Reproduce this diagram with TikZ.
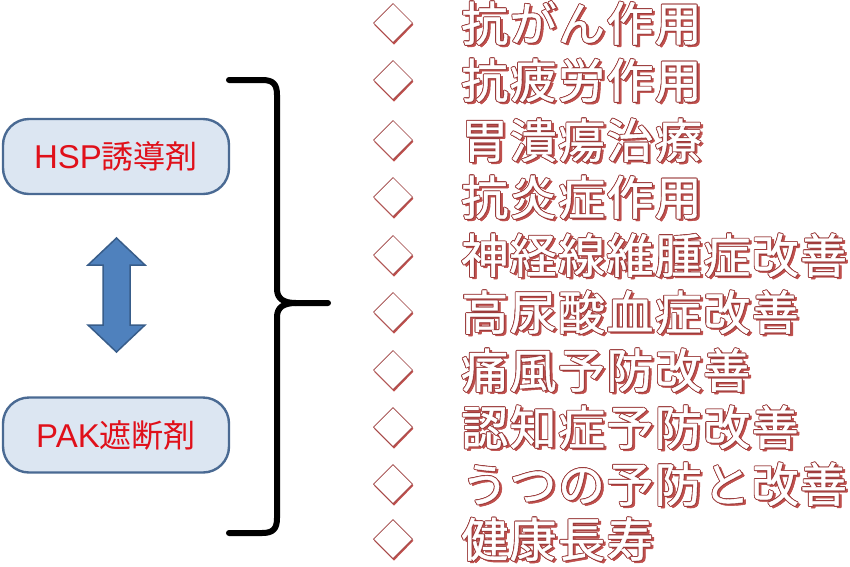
\documentclass[tikz,border=0pt]{standalone}
\usepackage{fontspec}
\newfontfamily\cjk{Noto Sans CJK JP}
\newfontfamily\cjkwide{Noto Sans CJK JP}[LetterSpace=3,FakeBold=0.9]
\newfontfamily\latinf{Liberation Sans}
\definecolor{boxfill}{HTML}{DCE6F2}
\definecolor{boxline}{HTML}{4A6A93}
\definecolor{labred}{HTML}{E0101A}
\definecolor{arrfill}{HTML}{4F81BD}
\definecolor{arrline}{HTML}{385D8A}
\definecolor{outl}{HTML}{9B3B3B}
\definecolor{shad}{HTML}{C0504D}
\newcommand\fancytxt[1]{\leavevmode
  \rlap{\kern2.3pt\raisebox{-2.3pt}{\color{shad}#1}}%
  \rlap{\kern2.9pt\raisebox{-1.7pt}{\color{shad}#1}}%
  \rlap{\kern0.9pt{\color{outl}#1}}%
  \rlap{\kern-0.9pt{\color{outl}#1}}%
  \rlap{\raisebox{0.9pt}{\color{outl}#1}}%
  \rlap{\raisebox{-0.9pt}{\color{outl}#1}}%
  \rlap{\kern0.65pt\raisebox{0.65pt}{\color{outl}#1}}%
  \rlap{\kern-0.65pt\raisebox{0.65pt}{\color{outl}#1}}%
  \rlap{\kern0.65pt\raisebox{-0.65pt}{\color{outl}#1}}%
  \rlap{\kern-0.65pt\raisebox{-0.65pt}{\color{outl}#1}}%
  {\color{white}#1}}
\tikzset{
  agent/.style={draw=boxline, line width=2.4pt, fill=boxfill, rounded corners=26pt,
    minimum width=226pt, minimum height=75pt, inner sep=0pt,
    text=labred, font=\fontsize{32}{32}\selectfont},
  item/.style={anchor=base west, inner sep=0pt,
    font=\cjkwide\fontsize{47}{47}\selectfont},
  dblarrow/.style={fill=arrfill, draw=arrline, line width=1.5pt, line join=miter},
  bracepath/.style={line width=6pt, draw=black, line cap=round, line join=round},
}
\newcommand\bullitem[2]{%
  \draw[shad, line width=2.2pt] (#1+19.5,#2+1) -- (#1+1,#2+20) -- (#1-18,#2+1);
  \draw[outl, fill=white, line width=0.7pt] (#1,#2-19.5) -- (#1+19.5,#2) -- (#1,#2+19.5) -- (#1-19.5,#2) -- cycle;
}
\begin{document}
\begin{tikzpicture}[x=1pt,y=-1pt]
\useasboundingbox (0,0) rectangle (850,566);
\fill[white] (0,0) rectangle (850,566);

% boxes
\node[agent] (hsp) at (116,156.5) {{\latinf\fontsize{33}{33}\selectfont HSP}\cjk 誘導剤};
\node[agent] (pak) at (116,435) {{\latinf\fontsize{33}{33}\selectfont PAK}\cjk 遮断剤};

% double arrow
\coordinate (arrtop) at (116.5,238);
\coordinate (arrbot) at (116.5,352);
\draw[dblarrow] (arrtop) -- (145,265) -- (130,265) -- (130,325) -- (145,325) -- (arrbot)
  -- (88,325) -- (103,325) -- (103,265) -- (88,265) -- cycle;

% brace
\coordinate (brtop) at (229,80);
\coordinate (brbot) at (229,533);
\coordinate (brtip) at (328,303);
\draw[bracepath] (brtop) -- (262,80) .. controls (273,80) and (277,84) .. (277,95)
  -- (277,289) .. controls (277,299) and (284,303) .. (296,303) -- (brtip);
\draw[bracepath] (296,303) .. controls (284,303) and (277,307) .. (277,317)
  -- (277,518) .. controls (277,529) and (273,533) .. (262,533) -- (brbot);

% list items
\foreach \cy/\txt/\nm in {
  23/抗がん作用/i1,
  80/抗疲労作用/i2,
  140/胃潰瘍治療/i3,
  197/抗炎症作用/i4,
  255/神経線維腫症改善/i5,
  312/高尿酸血症改善/i6,
  370/痛風予防改善/i7,
  427/認知症予防改善/i8,
  484/うつの予防と改善/i9,
  539/健康長寿/i10}{
  \bullitem{393}{\cy}
  \node[item] (\nm) at (461,\cy+18) {\fancytxt{\txt}};
}
\end{tikzpicture}
\end{document}
